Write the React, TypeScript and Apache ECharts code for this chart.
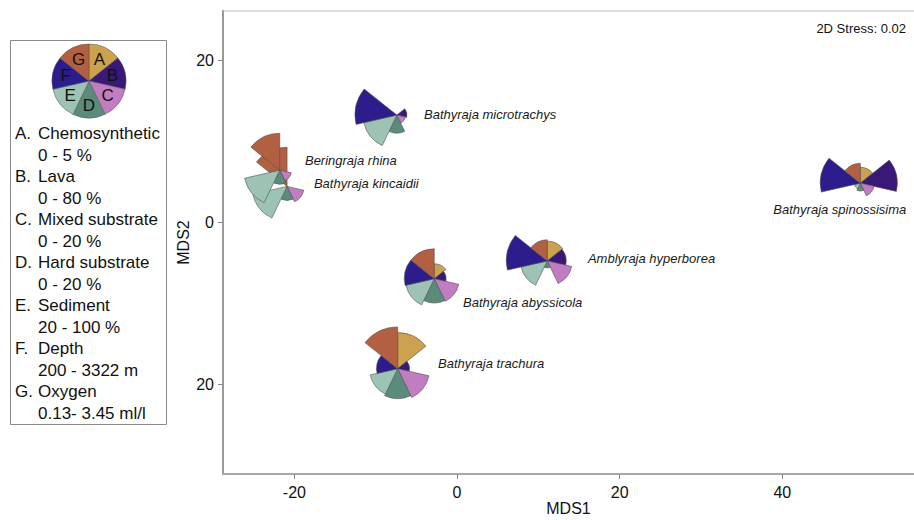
import React, { useEffect, useRef } from "react";
import * as echarts from "echarts";

// ---- data ----
const SPECIES = [
  "Bathyraja microtrachys",
  "Bathyraja kincaidii",
  "Beringraja rhina",
  "Bathyraja abyssicola",
  "Amblyraja hyperborea",
  "Bathyraja trachura",
  "Bathyraja spinossisima",
];
const MDS1 = [-7.4, -20.9, -21.8, -2.8, 11.1, -7.3, 49.6];
const MDS2 = [13.2, 4.4, 6.4, -7.0, -4.8, -18.1, 4.8];
// glyph ray lengths, scaled 0-100 within each variable's range
const CHEMO = [0, 0, 0, 34, 45, 82, 36]; // A
const LAVA = [23, 0, 0, 27, 43, 27, 84]; // B
const MIXED = [20, 39, 27, 57, 57, 73, 32]; // C
const HARD = [41, 32, 32, 55, 16, 68, 18]; // D
const SEDIMENT = [77, 80, 82, 66, 61, 64, 14]; // E
const DEPTH = [95, 0, 0, 68, 93, 48, 91]; // F
const OXYGEN = [0, 89, 84, 68, 48, 95, 45]; // G
// label anchors (left edge, middle) in MDS coordinates
const LABEL_X = [-4.06, -17.6, -18.7, 0.74, 16.1, -2.34, 38.9];
const LABEL_Y = [13.3, 4.7, 7.65, -9.9, -4.44, -17.4, 1.5];

const VAR_LETTERS = ["A", "B", "C", "D", "E", "F", "G"];
const VAR_NAMES = [
  "Chemosynthetic",
  "Lava",
  "Mixed substrate",
  "Hard substrate",
  "Sediment",
  "Depth",
  "Oxygen",
];
const VAR_RANGES = [
  "0 - 5 %",
  "0 - 80 %",
  "0 - 20 %",
  "0 - 20 %",
  "20 - 100 %",
  "200 - 3322 m",
  "0.13- 3.45 ml/l",
];
const X_TICKS = [-20, 0, 20, 40];
const Y_TICKS = [-20, 0, 20];

const COLORS = ["#CDA24E", "#3A1878", "#C27CC2", "#5B8B7B", "#9DC3B4", "#2C1C8C", "#B35F42"];
const FONT = "Liberation Sans, Arial, sans-serif";
const R_MAX = 44;
const STEP = (2 * Math.PI) / 7;

export default function App() {
  const ref = useRef<HTMLDivElement>(null);
  useEffect(() => {
    if (!ref.current) return;
    const chart = echarts.init(ref.current, null, { renderer: "svg" });

    const glyphData = SPECIES.map((s, i) => [
      MDS1[i],
      MDS2[i],
      CHEMO[i],
      LAVA[i],
      MIXED[i],
      HARD[i],
      SEDIMENT[i],
      DEPTH[i],
      OXYGEN[i],
    ]);
    const labelData = SPECIES.map((s, i) => [LABEL_X[i], LABEL_Y[i], s]);

    // legend graphic
    const legendChildren: any[] = [];
    legendChildren.push({
      type: "rect",
      shape: { x: 10.5, y: 40.5, width: 156, height: 384 },
      style: { fill: "#fff", stroke: "#8a8a8a", lineWidth: 1 },
    });
    const pcx = 89,
      pcy = 81,
      pr = 37;
    for (let k = 0; k < 7; k++) {
      const st = -Math.PI / 2 + k * STEP;
      legendChildren.push({
        type: "sector",
        shape: { cx: pcx, cy: pcy, r: pr, r0: 0, startAngle: st, endAngle: st + STEP, clockwise: true },
        style: { fill: COLORS[k], stroke: "#555", lineWidth: 0.5 },
      });
    }
    for (let k = 0; k < 7; k++) {
      const mid = -Math.PI / 2 + (k + 0.5) * STEP;
      legendChildren.push({
        type: "text",
        x: pcx + Math.cos(mid) * 24,
        y: pcy + Math.sin(mid) * 24,
        style: {
          text: VAR_LETTERS[k],
          fontSize: 17,
          fontFamily: FONT,
          fill: "#111",
          align: "center",
          verticalAlign: "middle",
        },
      });
    }
    for (let k = 0; k < 7; k++) {
      legendChildren.push({
        type: "text",
        x: 15,
        y: 133 + k * 43,
        style: {
          text: VAR_LETTERS[k] + ".",
          fontSize: 17,
          fontFamily: FONT,
          fill: "#111",
          align: "left",
          verticalAlign: "middle",
        },
      });
      legendChildren.push({
        type: "text",
        x: 38,
        y: 133 + k * 43,
        style: {
          text: VAR_NAMES[k],
          fontSize: 17,
          fontFamily: FONT,
          fill: "#111",
          align: "left",
          verticalAlign: "middle",
        },
      });
      legendChildren.push({
        type: "text",
        x: 38,
        y: 155 + k * 43,
        style: {
          text: VAR_RANGES[k],
          fontSize: 17,
          fontFamily: FONT,
          fill: "#111",
          align: "left",
          verticalAlign: "middle",
        },
      });
    }

    chart.setOption({
      animation: false,
      grid: { left: 223, top: 11, right: 0, bottom: 46, outerBoundsMode: "none", containLabel: false },
      xAxis: {
        type: "value",
        min: -28.78,
        max: 56.2,
        name: "MDS1",
        nameLocation: "middle",
        nameGap: 26,
        nameMoveOverlap: false,
        nameTextStyle: { fontSize: 16, fontFamily: FONT, color: "#111" },
        splitLine: { show: false },
        axisLine: { show: true, onZero: false, lineStyle: { color: "#a8a8a8", width: 2 } },
        axisTick: { show: true, length: 5, lineStyle: { color: "#888" }, customValues: X_TICKS },
        axisLabel: {
          fontSize: 16,
          fontFamily: FONT,
          color: "#111",
          margin: 10,
          customValues: X_TICKS,
        },
      },
      yAxis: {
        type: "value",
        min: -31.1,
        max: 26.05,
        name: "MDS2",
        nameLocation: "middle",
        nameGap: 32,
        nameMoveOverlap: false,
        nameRotate: 90,
        nameTextStyle: { fontSize: 16, fontFamily: FONT, color: "#111" },
        splitLine: { show: false },
        axisLine: { show: true, onZero: false, lineStyle: { color: "#999", width: 2 } },
        axisTick: { show: true, length: 5, lineStyle: { color: "#888" }, customValues: Y_TICKS },
        axisLabel: {
          fontSize: 16,
          fontFamily: FONT,
          color: "#111",
          margin: 9,
          customValues: Y_TICKS,
          formatter: (v: number) => String(Math.abs(v)),
        },
      },
      graphic: [
        { type: "group", children: legendChildren },
        {
          type: "line",
          shape: { x1: 223, y1: 11, x2: 914, y2: 11 },
          style: { stroke: "#d0d0d0", lineWidth: 1.5 },
        },
        {
          type: "text",
          x: 906,
          y: 28,
          style: {
            text: "2D Stress: 0.02",
            fontSize: 13,
            fontFamily: FONT,
            fill: "#111",
            align: "right",
            verticalAlign: "middle",
          },
        },
      ],
      series: [
        {
          type: "custom",
          data: glyphData,
          clip: false,
          renderItem: (params: any, api: any) => {
            const c = api.coord([api.value(0), api.value(1)]);
            const children: any[] = [];
            for (let k = 0; k < 7; k++) {
              const v = api.value(2 + k) as number;
              if (!v || v <= 0) continue;
              const st = -Math.PI / 2 + k * STEP;
              children.push({
                type: "sector",
                shape: {
                  cx: c[0],
                  cy: c[1],
                  r: (v / 100) * R_MAX,
                  r0: 0,
                  startAngle: st,
                  endAngle: st + STEP,
                  clockwise: true,
                },
                style: { fill: COLORS[k], stroke: "#505050", lineWidth: 0.6 },
              });
            }
            return { type: "group", children };
          },
        },
        {
          type: "custom",
          data: labelData,
          renderItem: (params: any, api: any) => {
            const c = api.coord([api.value(0), api.value(1)]);
            return {
              type: "text",
              x: c[0],
              y: c[1],
              style: {
                text: SPECIES[params.dataIndex],
                fontSize: 13,
                fontStyle: "italic",
                fontFamily: FONT,
                fill: "#1a1a1a",
                align: "left",
                verticalAlign: "middle",
              },
            };
          },
        },
      ],
    });
    return () => chart.dispose();
  }, []);
  return (
    <div
      ref={ref}
      style={{ position: "fixed", left: 0, top: 0, width: 914, height: 520, background: "#fff" }}
    />
  );
}
